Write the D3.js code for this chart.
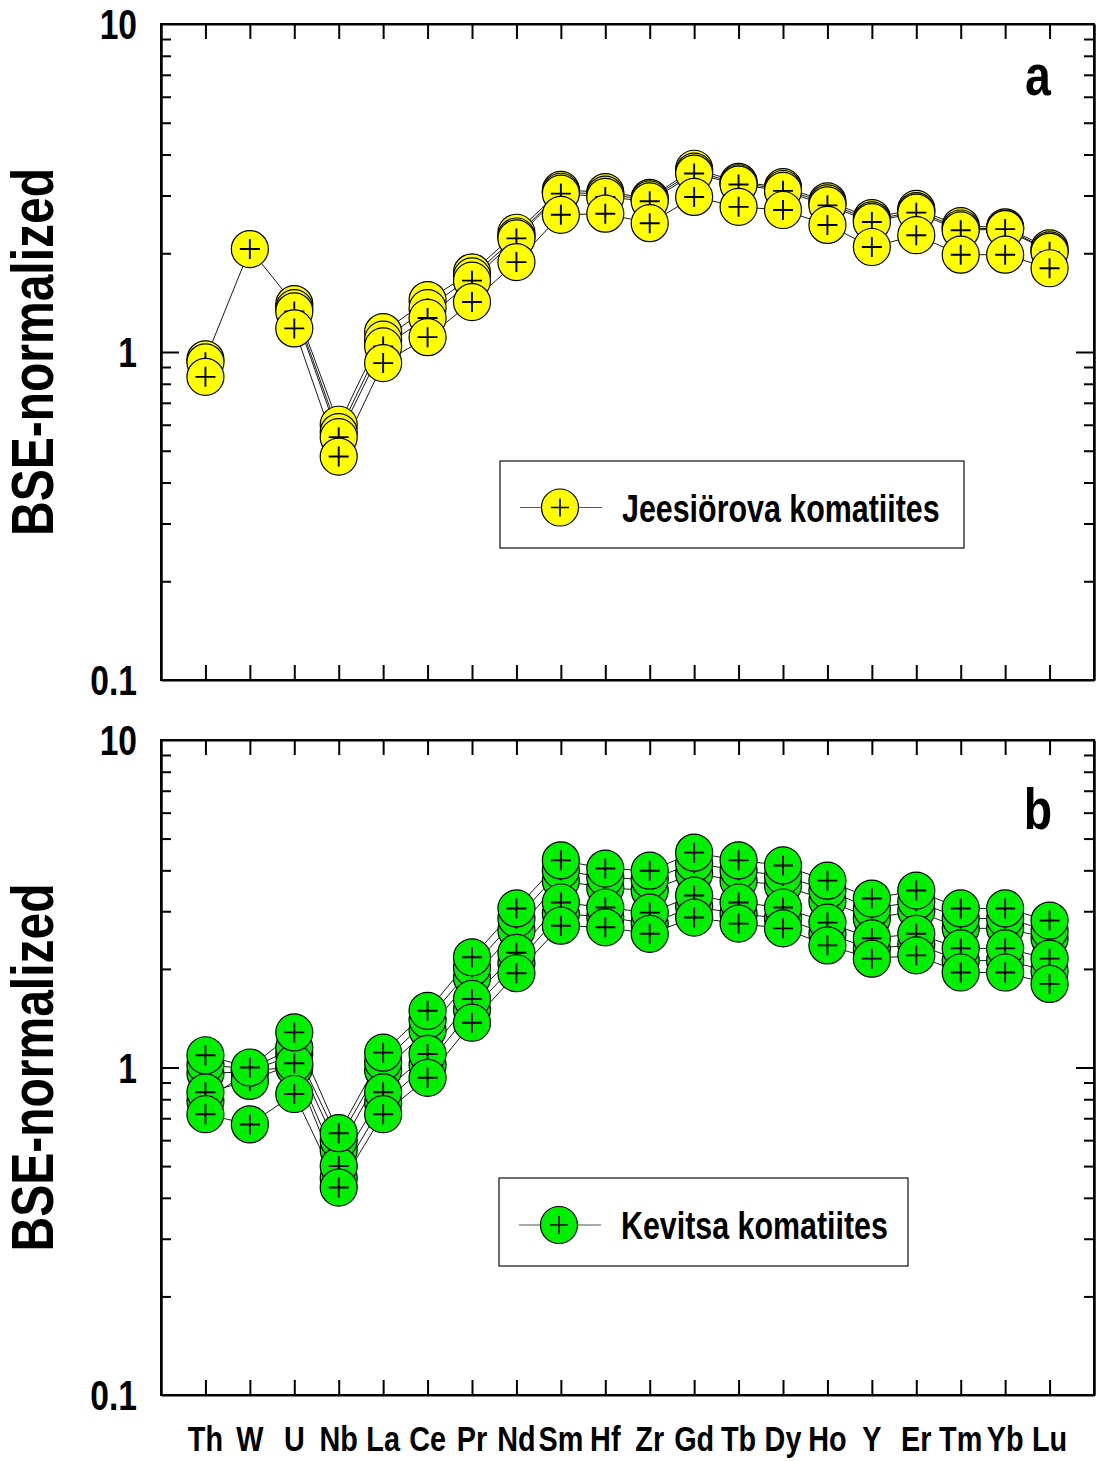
<!DOCTYPE html>
<html>
<head>
<meta charset="utf-8">
<script src="https://cdn.jsdelivr.net/npm/d3@7"></script>
<style>
  body { margin: 0; background: #fff; }
  text { font-family: "Liberation Sans", Arial, sans-serif; font-weight: bold; fill: #000; }
</style>
</head>
<body>
<div id="chart"></div>
<script>
// element order along x
const elements = ['Th', 'W', 'U', 'Nb', 'La', 'Ce', 'Pr', 'Nd', 'Sm', 'Hf', 'Zr', 'Gd', 'Tb', 'Dy', 'Ho', 'Y', 'Er', 'Tm', 'Yb', 'Lu'];

// Jeesiörova komatiites (null = not analysed)
const jee1 = [0.95, 2.06, 1.40, 0.60, 1.15, 1.44, 1.75, 2.31, 3.12, 3.07, 2.95, 3.62, 3.30, 3.18, 2.88, 2.56, 2.73, 2.42, 2.40, 2.07];
const jee2 = [null, null, 1.36, 0.57, 1.09, 1.36, 1.70, 2.25, 3.08, 3.02, 2.92, 3.55, 3.27, 3.14, 2.84, 2.52, 2.69, 2.38, 2.38, 2.04];
const jee3 = [0.93, null, 1.33, 0.55, 1.04, 1.27, 1.65, 2.22, 3.04, 2.97, 2.88, 3.50, 3.24, 3.10, 2.80, 2.49, 2.66, 2.35, 2.37, 2.02];
const jee4 = [0.84, null, 1.18, 0.48, 0.925, 1.11, 1.42, 1.88, 2.62, 2.64, 2.47, 2.97, 2.77, 2.71, 2.44, 2.09, 2.27, 1.98, 1.98, 1.80];

// Kevitsa komatiites
const kev1 = [1.09, 1.00, 1.28, 0.63, 1.11, 1.49, 2.17, 3.06, 4.29, 4.05, 3.99, 4.53, 4.29, 4.14, 3.72, 3.28, 3.47, 3.06, 3.06, 2.81];
const kev2 = [0.96, 0.97, 1.10, 0.56, 0.98, 1.30, 1.88, 2.62, 3.72, 3.54, 3.47, 3.91, 3.72, 3.60, 3.23, 2.85, 3.01, 2.66, 2.66, 2.48];
const kev3 = [0.84, 0.91, 1.03, 0.50, 0.84, 1.10, 1.62, 2.24, 3.19, 3.08, 2.97, 3.35, 3.19, 3.08, 2.77, 2.48, 2.56, 2.31, 2.31, 2.15];
const kev4 = [0.72, 0.67, 0.83, 0.43, 0.72, 0.93, 1.37, 1.94, 2.71, 2.68, 2.56, 2.87, 2.75, 2.66, 2.36, 2.15, 2.20, 1.95, 1.95, 1.80];
const kev5 = [1.02, 0.99, 1.15, 0.60, 1.04, 1.40, 2.02, 2.85, 4.00, 3.80, 3.75, 4.20, 4.00, 3.85, 3.48, 3.05, 3.22, 2.85, 2.85, 2.62];
const kev6 = [0.79, 0.98, 1.00, 0.46, 0.78, 1.02, 1.50, 2.08, 2.95, 2.88, 2.75, 3.10, 2.95, 2.85, 2.56, 2.30, 2.38, 2.12, 2.12, 1.97];

const yTicks = [0.1, 1, 10];
const yTickLabels = ['0.1', '1', '10'];
const yMinor = [0.2, 0.3, 0.4, 0.5, 0.6, 0.7, 0.8, 0.9, 2, 3, 4, 5, 6, 7, 8, 9];

const W = 1096, H = 1461;
const svg = d3.select('#chart').append('svg')
  .attr('width', W)
  .attr('height', H);

const left = 161, right = 1094;
const x = d3.scalePoint().domain(elements).range([left, right]).padding(1);
const SQ = 0.8; // narrow font squeeze

function panel(opts) {
  const { top, bottom, series, fill, letter, letterY, legend, showX } = opts;
  const y = d3.scaleLog().domain([0.1, 10]).range([bottom, top]);
  const g = svg.append('g');

  // ticks on all four sides, pointing inward
  g.append('g').attr('transform', `translate(0,${top})`)
    .call(d3.axisTop(x).tickSizeInner(-15).tickSizeOuter(0).tickFormat(''));
  g.append('g').attr('transform', `translate(0,${bottom})`)
    .call(d3.axisBottom(x).tickSizeInner(-15).tickSizeOuter(0).tickFormat(''));
  g.append('g').attr('transform', `translate(${left},0)`)
    .call(d3.axisLeft(y).tickValues(yMinor).tickSizeInner(-10).tickSizeOuter(0).tickFormat(''));
  g.append('g').attr('transform', `translate(${left},0)`)
    .call(d3.axisLeft(y).tickValues([1]).tickSizeInner(-18).tickSizeOuter(0).tickFormat(''));
  g.append('g').attr('transform', `translate(${right},0)`)
    .call(d3.axisRight(y).tickValues(yMinor).tickSizeInner(-10).tickSizeOuter(0).tickFormat(''));
  g.append('g').attr('transform', `translate(${right},0)`)
    .call(d3.axisRight(y).tickValues([1]).tickSizeInner(-18).tickSizeOuter(0).tickFormat(''));
  g.selectAll('.tick line, .domain').attr('stroke', '#000').attr('stroke-width', 2);

  g.append('rect')
    .attr('x', left).attr('y', top)
    .attr('width', right - left).attr('height', bottom - top)
    .attr('fill', 'none').attr('stroke', '#000').attr('stroke-width', 2);

  // y tick labels
  g.selectAll('.ylab').data(yTicks).enter().append('text')
    .attr('transform', d => `translate(137,${y(d) + 15}) scale(${SQ},1)`)
    .attr('text-anchor', 'end')
    .style('font-size', '42px')
    .text((d, i) => yTickLabels[i]);

  // y title
  g.append('text')
    .attr('transform', `translate(53,${(top + bottom) / 2}) rotate(-90) scale(${SQ},1)`)
    .attr('text-anchor', 'middle')
    .style('font-size', '60px')
    .text('BSE-normalized');

  // panel letter
  g.append('text')
    .attr('transform', `translate(1038,${letterY}) scale(${SQ},1)`)
    .attr('text-anchor', 'middle')
    .style('font-size', '58px')
    .text(letter);

  // lines
  const line = d3.line()
    .defined(d => d != null)
    .x((d, i) => x(elements[i]))
    .y(d => y(d));
  series.forEach(s => {
    g.append('path')
      .datum(s)
      .attr('d', line)
      .attr('fill', 'none')
      .attr('stroke', '#1a1a1a')
      .attr('stroke-width', 1);
  });

  // symbols
  series.forEach(s => {
    const pts = s.map((v, i) => ({ el: elements[i], v })).filter(d => d.v != null);
    const m = g.append('g').selectAll('g').data(pts).enter().append('g')
      .attr('transform', d => `translate(${x(d.el)},${y(d.v)})`);
    m.append('circle').attr('r', 18.5)
      .attr('fill', fill).attr('stroke', '#000').attr('stroke-width', 1.2);
    m.append('path').attr('d', 'M-10,0H10M0,-10V10')
      .attr('stroke', '#000').attr('stroke-width', 1.9);
  });

  // legend
  const L = legend;
  g.append('rect')
    .attr('x', L.x).attr('y', L.y).attr('width', L.w).attr('height', L.h)
    .attr('fill', '#fff').attr('stroke', '#222').attr('stroke-width', 1.3);
  const cy = L.y + L.h / 2 + 3;
  g.append('line')
    .attr('x1', L.x + 20).attr('x2', L.x + 102)
    .attr('y1', cy).attr('y2', cy)
    .attr('stroke', '#555').attr('stroke-width', 1.2);
  const lm = g.append('g').attr('transform', `translate(${L.x + 60},${cy})`);
  lm.append('circle').attr('r', 18.5).attr('fill', fill).attr('stroke', '#000').attr('stroke-width', 1.2);
  lm.append('path').attr('d', 'M-9,0H9M0,-9V9').attr('stroke', '#000').attr('stroke-width', 1.7);
  g.append('text')
    .attr('transform', `translate(${L.x + 122},${cy + 14}) scale(${SQ},1)`)
    .style('font-size', '38px')
    .text(L.label);

  if (showX) {
    g.selectAll('.xlab').data(elements).enter().append('text')
      .attr('transform', d => `translate(${x(d)},1451) scale(${SQ},1)`)
      .attr('text-anchor', 'middle')
      .style('font-size', '36px')
      .text(d => d);
  }
}

panel({
  top: 24, bottom: 680,
  series: [jee1, jee2, jee3, jee4],
  fill: '#ffff00',
  letter: 'a', letterY: 95,
  legend: { x: 500, y: 461, w: 464, h: 87, label: 'Jeesiörova komatiites' },
  showX: false
});

panel({
  top: 740, bottom: 1395,
  series: [kev6, kev2, kev5, kev3, kev1, kev4],
  fill: '#00f000',
  letter: 'b', letterY: 829,
  legend: { x: 499, y: 1178, w: 409, h: 88, label: 'Kevitsa komatiites' },
  showX: true
});
</script>
</body>
</html>
